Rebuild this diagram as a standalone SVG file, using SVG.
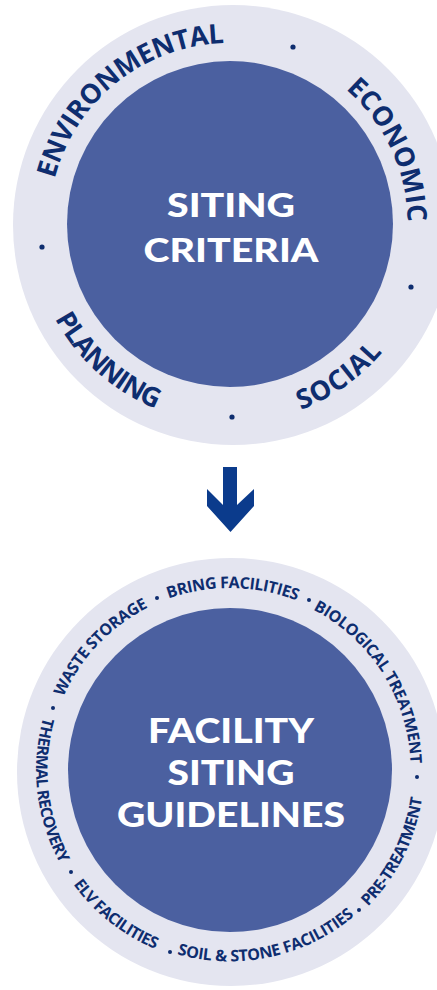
<svg xmlns="http://www.w3.org/2000/svg" width="437" height="990" viewBox="0 0 437 990">
  <style>
    .ring { fill: #e4e5f0; }
    .core { fill: #4b60a0; }
    .title { font-family: Lato, "Open Sans", sans-serif; font-weight: 900; fill: #ffffff; text-anchor: middle; }
    .label { font-family: "Open Sans", Lato, sans-serif; font-weight: 700; fill: #0e2d6f; text-anchor: middle; }
    .big { font-size: 27px; }
    .small { font-size: 16px; }
    .dot { fill: #0e2d6f; }
    .arrow { fill: #0b3b8c; }
  </style>
  <defs>
    <!-- arcs used as baselines for curved labels (upper circle) -->
    <path id="arc-env" d="M88.6,337.1 A181,181 0 0 1 371.4,110.9"/>
    <path id="arc-eco" d="M153.5,60.0 A181,181 0 0 1 306.5,388.0"/>
    <path id="arc-soc" d="M67.8,339.3 A199,199 0 0 0 392.2,108.7"/>
    <path id="arc-pla" d="M81.4,91.6 A199,199 0 0 0 378.6,356.4"/>
    <!-- arcs for the lower circle -->
    <path id="arc-was" d="M104.7,902.0 A182,182 0 0 1 355.3,638.0"/>
    <path id="arc-bri" d="M48.0,767.1 A182,182 0 0 1 412.0,772.9"/>
    <path id="arc-bio" d="M132.7,616.2 A182,182 0 0 1 327.3,923.8"/>
    <path id="arc-pre" d="M143.4,943.6 A194,194 0 0 0 316.6,596.4"/>
    <path id="arc-soi" d="M40.4,811.0 A194,194 0 0 0 419.6,729.0"/>
    <path id="arc-elv" d="M77.7,649.8 A194,194 0 0 0 382.3,890.2"/>
    <path id="arc-the" d="M208.0,577.2 A194,194 0 0 0 252.0,962.8"/>
  </defs>

  <g id="siting-criteria">
    <circle class="ring" cx="233" cy="225" r="220"/>
    <circle class="core" cx="230" cy="224" r="163"/>
    <text class="title" font-size="33" x="231" y="217" textLength="128" lengthAdjust="spacingAndGlyphs">SITING</text>
    <text class="title" font-size="33" x="231" y="262" textLength="175" lengthAdjust="spacingAndGlyphs">CRITERIA</text>
    <text class="label big"><textPath href="#arc-env" startOffset="50%" textLength="233" lengthAdjust="spacing">ENVIRONMENTAL</textPath></text>
    <text class="label big"><textPath href="#arc-eco" startOffset="50%" textLength="151" lengthAdjust="spacing">ECONOMIC</textPath></text>
    <text class="label big"><textPath href="#arc-soc" startOffset="50%" textLength="101" lengthAdjust="spacing">SOCIAL</textPath></text>
    <text class="label big"><textPath href="#arc-pla" startOffset="50%" textLength="138" lengthAdjust="spacing">PLANNING</textPath></text>
    <circle class="dot" cx="293" cy="47" r="2.6"/>
    <circle class="dot" cx="411" cy="287" r="2.6"/>
    <circle class="dot" cx="232" cy="417" r="2.6"/>
    <circle class="dot" cx="42" cy="247" r="2.6"/>
  </g>

  <g id="facility-guidelines">
    <circle class="ring" cx="231" cy="772" r="214"/>
    <circle class="core" cx="230" cy="770" r="162"/>
    <text class="title" font-size="35" x="231" y="743" textLength="166" lengthAdjust="spacingAndGlyphs">FACILITY</text>
    <text class="title" font-size="35" x="231" y="785" textLength="127" lengthAdjust="spacingAndGlyphs">SITING</text>
    <text class="title" font-size="35" x="231" y="827" textLength="228" lengthAdjust="spacingAndGlyphs">GUIDELINES</text>
    <text class="label small"><textPath href="#arc-was" startOffset="50%" textLength="126" lengthAdjust="spacing">WASTE STORAGE</textPath></text>
    <text class="label small"><textPath href="#arc-bri" startOffset="50%" textLength="131" lengthAdjust="spacing">BRING FACILITIES</textPath></text>
    <text class="label small"><textPath href="#arc-bio" startOffset="50%" textLength="191" lengthAdjust="spacing">BIOLOGICAL TREATMENT</textPath></text>
    <text class="label small"><textPath href="#arc-pre" startOffset="50%" textLength="123" lengthAdjust="spacing">PRE-TREATMENT</textPath></text>
    <text class="label small"><textPath href="#arc-soi" startOffset="50%" textLength="189" lengthAdjust="spacing">SOIL &amp; STONE FACILITIES</textPath></text>
    <text class="label small"><textPath href="#arc-elv" startOffset="50%" textLength="106" lengthAdjust="spacing">ELV FACILITIES</textPath></text>
    <text class="label small"><textPath href="#arc-the" startOffset="50%" textLength="151" lengthAdjust="spacing">THERMAL RECOVERY</textPath></text>
    <circle class="dot" cx="53" cy="708" r="2"/>
    <circle class="dot" cx="157" cy="598" r="2"/>
    <circle class="dot" cx="309" cy="600" r="2"/>
    <circle class="dot" cx="417" cy="777" r="2"/>
    <circle class="dot" cx="359" cy="910" r="2"/>
    <circle class="dot" cx="170" cy="952" r="2"/>
    <circle class="dot" cx="71" cy="872" r="2"/>
  </g>

  <g id="connectors">
    <polygon class="arrow" points="223,467 237,467 237,505 254,489 254,506 230.5,532 207,506 207,489 223,505"/>
  </g>
</svg>
